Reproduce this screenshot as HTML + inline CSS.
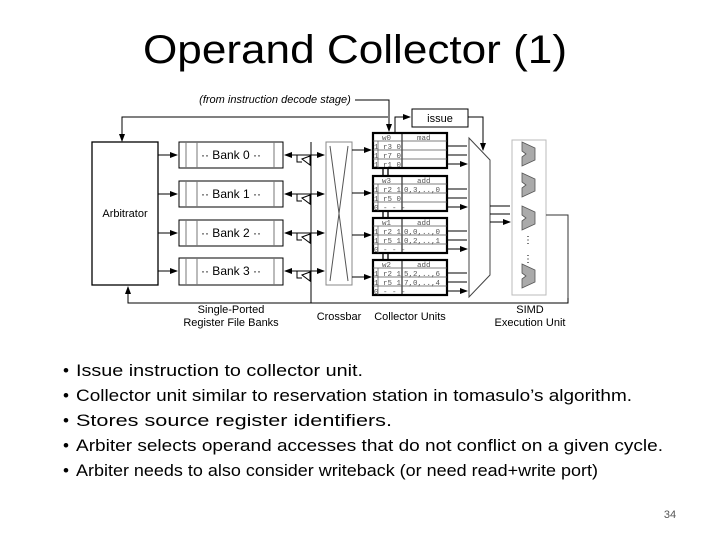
<!DOCTYPE html>
<html><head><style>
body{margin:0;background:#fff}
svg{display:block}
</style></head><body>
<svg width="720" height="540" viewBox="0 0 720 540" xmlns="http://www.w3.org/2000/svg" font-family="Liberation Sans, sans-serif">
<defs>
<marker id="a" markerWidth="8" markerHeight="6" refX="7" refY="3" orient="auto" markerUnits="userSpaceOnUse"><path d="M0,0 L8,3 L0,6z" fill="#000"/></marker>
</defs>
<text x="355" y="63" font-size="40" text-anchor="middle" textLength="424" lengthAdjust="spacingAndGlyphs">Operand Collector (1)</text>

<g stroke="#000" fill="none" stroke-width="1">
<rect x="92" y="142" width="66" height="143" stroke-width="1.3"/>
<path d="M388,117 H122 V141" marker-end="url(#a)"/>
<path d="M568,298 V303 H128 V287" marker-end="url(#a)"/>
<path d="M311,142 V303"/>
<rect x="179" y="142" width="104" height="26" fill="#fff"/>
<path d="M186,142V168M197,142V168M274,142V168" stroke="#777"/>
<rect x="179" y="181" width="104" height="26" fill="#fff"/>
<path d="M186,181V207M197,181V207M274,181V207" stroke="#777"/>
<rect x="179" y="220" width="104" height="26" fill="#fff"/>
<path d="M186,220V246M197,220V246M274,220V246" stroke="#777"/>
<rect x="179" y="258" width="104" height="27" fill="#fff"/>
<path d="M186,258V285M197,258V285M274,258V285" stroke="#777"/>
<path d="M158,155 H177" marker-end="url(#a)"/>
<path d="M158,194 H177" marker-end="url(#a)"/>
<path d="M158,233 H177" marker-end="url(#a)"/>
<path d="M158,271 H177" marker-end="url(#a)"/>
<path d="M324,155 H285" marker-end="url(#a)"/><path d="M305,155 H324" marker-end="url(#a)"/>
<path d="M324,194 H285" marker-end="url(#a)"/><path d="M305,194 H324" marker-end="url(#a)"/>
<path d="M324,233 H285" marker-end="url(#a)"/><path d="M305,233 H324" marker-end="url(#a)"/>
<path d="M324,271 H285" marker-end="url(#a)"/><path d="M305,271 H324" marker-end="url(#a)"/>
<path d="M297,155 V162 H302 M302,159 L310,156 V165 Z"/>
<path d="M297,194 V201 H302 M302,198 L310,195 V204 Z"/>
<path d="M297,233 V240 H302 M302,237 L310,234 V243 Z"/>
<path d="M297,271 V278 H302 M302,275 L310,272 V281 Z"/>
<rect x="326" y="142" width="26" height="143" stroke="#888"/>
<path d="M330,146 L348,281 M348,146 L330,281" stroke="#555"/>
<path d="M352,150 H371" marker-end="url(#a)"/>
<path d="M352,193 H371" marker-end="url(#a)"/>
<path d="M352,235 H371" marker-end="url(#a)"/>
<path d="M352,277 H371" marker-end="url(#a)"/>
<path d="M355,100 H389 V131" marker-end="url(#a)"/>
<rect x="412" y="109" width="56" height="18"/>
<path d="M395,132 V117 H410" marker-end="url(#a)"/>
<path d="M468,117 H483 V150" marker-end="url(#a)"/>
<g stroke-width="2.2">
<rect x="373" y="133" width="74" height="35"/>
<rect x="373" y="176" width="74" height="35"/>
<rect x="373" y="218" width="74" height="35"/>
<rect x="373" y="260" width="74" height="35"/>
</g>
<path d="M402,133V168M402,176V211M402,218V253M402,260V295"/>
<path d="M373,141H447M373,150H447M373,159H447 M373,184H447M373,193H447M373,202H447 M373,226H447M373,235H447M373,244H447 M373,268H447M373,277H447M373,286H447" stroke="#555" stroke-width=".7"/>
<path d="M378,141V168M378,184V211M378,226V253M378,268V295" stroke="#555" stroke-width=".7"/>
<path d="M383,168V176M388,168V176M383,211V218M388,211V218M383,253V260M388,253V260" stroke-width="1.3"/>
<path d="M447,146H467M447,155H467M447,164H467" marker-end="url(#a)"/>
<path d="M447,189H467M447,198H467M447,207H467" marker-end="url(#a)"/>
<path d="M447,231H467M447,240H467M447,249H467" marker-end="url(#a)"/>
<path d="M447,273H467M447,282H467M447,291H467" marker-end="url(#a)"/>
<path d="M469,138 L490,160 V275 L469,297 Z" stroke="#444"/>
<path d="M490,206H510M490,214H510M490,222H510" marker-end="url(#a)"/>
<rect x="512" y="140" width="34" height="155" stroke="#bbb"/>
<path d="M546,215 H568 V298" stroke="#333"/>
</g>
<g fill="#aaa" stroke="#555" stroke-width="0.8">
<path d="M522,142 L535,148 V160 L522,166 V157 L526,154 L522,151Z"/>
<path d="M522,173 L535,179 V191 L522,197 V188 L526,185 L522,182Z"/>
<path d="M522,206 L535,212 V224 L522,230 V221 L526,218 L522,215Z"/>
<path d="M522,264 L535,270 V282 L522,288 V279 L526,276 L522,273Z"/>
</g>
<text x="528" y="243" font-size="10" text-anchor="middle">⋮</text>
<text x="528" y="262" font-size="10" text-anchor="middle">⋮</text>

<g font-size="11" fill="#000">
<text x="275" y="103" text-anchor="middle" font-style="italic">(from instruction decode stage)</text>
<text x="125" y="217" text-anchor="middle">Arbitrator</text>
<text x="231" y="159" text-anchor="middle" font-size="12">·· Bank 0 ··</text>
<text x="231" y="198" text-anchor="middle" font-size="12">·· Bank 1 ··</text>
<text x="231" y="237" text-anchor="middle" font-size="12">·· Bank 2 ··</text>
<text x="231" y="275" text-anchor="middle" font-size="12">·· Bank 3 ··</text>
<text x="440" y="122" text-anchor="middle">issue</text>
<text x="231" y="313" text-anchor="middle">Single-Ported</text>
<text x="231" y="326" text-anchor="middle">Register File Banks</text>
<text x="339" y="320" text-anchor="middle">Crossbar</text>
<text x="410" y="320" text-anchor="middle">Collector Units</text>
<text x="530" y="313" text-anchor="middle">SIMD</text>
<text x="530" y="326" text-anchor="middle">Execution Unit</text>
</g>
<g font-size="7.5" font-family="Liberation Mono, monospace" fill="#555">
<text x="382" y="140">w0</text><text x="417" y="140">mad</text>
<text x="382" y="183">w3</text><text x="417" y="183">add</text>
<text x="382" y="225">w1</text><text x="417" y="225">add</text>
<text x="382" y="267">w2</text><text x="417" y="267">add</text>
<text x="374" y="149">1 r3 0</text><text x="374" y="158">1 r7 0</text><text x="374" y="167">1 r1 0</text>
<text x="374" y="192">1 r2 1</text><text x="374" y="201">1 r5 0</text><text x="374" y="210">0 - - -</text>
<text x="374" y="234">1 r2 1</text><text x="374" y="243">1 r5 1</text><text x="374" y="252">0 - - -</text>
<text x="374" y="276">1 r2 1</text><text x="374" y="285">1 r5 1</text><text x="374" y="294">0 - - -</text>
<text x="404" y="192">0,3,..,0</text><text x="404" y="234">0,0,..,0</text><text x="404" y="243">0,2,..,1</text>
<text x="404" y="276">5,2,..,6</text><text x="404" y="285">7,0,..,4</text>
</g>

<g font-size="17" fill="#000" lengthAdjust="spacingAndGlyphs">
<text x="63" y="376">•</text><text x="76" y="376" textLength="287" lengthAdjust="spacingAndGlyphs">Issue instruction to collector unit.</text>
<text x="63" y="401">•</text><text x="76" y="401" textLength="556" lengthAdjust="spacingAndGlyphs">Collector unit similar to reservation station in tomasulo’s algorithm.</text>
<text x="63" y="426">•</text><text x="76" y="426" textLength="316" lengthAdjust="spacingAndGlyphs">Stores source register identifiers.</text>
<text x="63" y="451">•</text><text x="76" y="451" textLength="587" lengthAdjust="spacingAndGlyphs">Arbiter selects operand accesses that do not conflict on a given cycle.</text>
<text x="63" y="476">•</text><text x="76" y="476" textLength="522" lengthAdjust="spacingAndGlyphs">Arbiter needs to also consider writeback (or need read+write port)</text>
</g>
<text x="670" y="518" font-size="11" fill="#555" text-anchor="middle">34</text>
</svg>
</body></html>
